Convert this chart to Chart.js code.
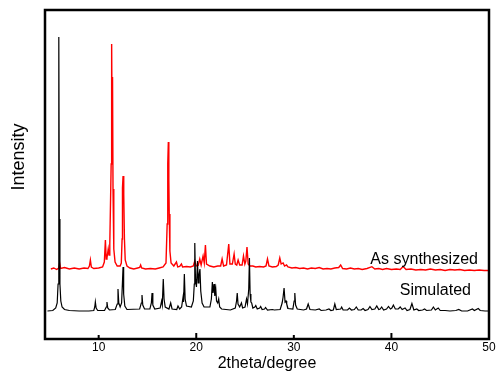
<!DOCTYPE html>
<html>
<head>
<meta charset="utf-8">
<script src="https://cdn.jsdelivr.net/npm/chart.js@4.4.0/dist/chart.umd.min.js"></script>
<style>
    html, body { margin: 0; padding: 0; background: #fff; }
</style>
</head>
<body>
<canvas id="chart-1" width="497" height="385"></canvas>
<script>
// 2theta (degree), intensity (arb. units, offset stacked)
const simulated = [
    [4.75, 28], [5.3, 28.5], [5.6, 31], [5.75, 36], [5.84, 55], [5.9, 120], [5.93, 302], [5.97, 120], [6.03, 55], [6.12, 38], [6.25, 32], [6.5, 29.5], [7.0, 28.5], [8.0, 28], [9.0, 28],
    [9.5, 28.5], [9.6, 32], [9.66, 37], [9.74, 31], [9.9, 28.5],
    [10.6, 28.5], [10.78, 32], [10.85, 37], [10.93, 31], [11.1, 29],
    [11.7, 29.5], [11.9, 35], [11.98, 50], [12.06, 36], [12.2, 32], [12.35, 36], [12.45, 60], [12.5, 72], [12.56, 45], [12.68, 33], [12.9, 29.5],
    [14.2, 30], [14.37, 36], [14.44, 44], [14.52, 34], [14.7, 30],
    [15.25, 30], [15.4, 36], [15.47, 46], [15.55, 34], [15.75, 30],
    [16.3, 31], [16.45, 38], [16.52, 34], [16.62, 60], [16.7, 40], [16.82, 32],
    [17.2, 30], [17.38, 36], [17.52, 30],
    [18.0, 29.5], [18.13, 33], [18.3, 30],
    [18.5, 32], [18.65, 42], [18.7, 37], [18.78, 65], [18.86, 40], [19.0, 33],
    [19.5, 32], [19.7, 38], [19.8, 55], [19.85, 96], [19.92, 60], [20.02, 52], [20.13, 78], [20.2, 56], [20.28, 64], [20.38, 70], [20.46, 48], [20.6, 36], [20.8, 32],
    [21.4, 32], [21.55, 40], [21.65, 57], [21.72, 46], [21.82, 55], [21.9, 43], [22.0, 50], [22.08, 38], [22.2, 36], [22.3, 40], [22.4, 32], [22.6, 30],
    [23.5, 29], [24.0, 31], [24.13, 38], [24.2, 46], [24.28, 35], [24.45, 32], [24.63, 36], [24.75, 31],
    [25.0, 32], [25.15, 40], [25.25, 35], [25.38, 50], [25.45, 81], [25.52, 45], [25.6, 37], [25.68, 36], [25.8, 31], [26.0, 32], [26.1, 33.5], [26.25, 30], [26.5, 31], [26.6, 32.5], [26.75, 29.5], [27.0, 30], [27.1, 31.5], [27.3, 29], [27.8, 29.5], [28.0, 29],
    [28.6, 29.5], [28.8, 36], [28.9, 42], [29.0, 51], [29.1, 37], [29.2, 38], [29.27, 35], [29.4, 30.5],
    [29.9, 30], [30.03, 38], [30.1, 46], [30.18, 34], [30.35, 30],
    [31.0, 29], [31.3, 30], [31.47, 35], [31.65, 29.5], [32.2, 29], [32.6, 30], [32.8, 28.5], [33.3, 29], [33.6, 30], [33.8, 28.5],
    [34.05, 29], [34.2, 35], [34.35, 29.5], [34.8, 30], [34.9, 32], [35.05, 29],
    [35.5, 29], [35.7, 31], [35.9, 29], [36.2, 29.5], [36.4, 32], [36.6, 29], [36.9, 29], [37.1, 30.5], [37.3, 28.5], [37.6, 29.5], [37.8, 32.5], [38.0, 29.5], [38.3, 30], [38.5, 33], [38.7, 29.5], [38.85, 30], [39.0, 32], [39.2, 29], [39.5, 30], [39.7, 32.5], [39.9, 30],
    [40.05, 31], [40.2, 34], [40.4, 30], [40.7, 30], [40.9, 32], [41.1, 29.5], [41.4, 31], [41.6, 28.5], [41.9, 29.5], [42.1, 35.5], [42.3, 29], [42.6, 30], [42.8, 28.5], [43.2, 29], [43.4, 30], [43.6, 28.5], [44.1, 29], [44.3, 32], [44.5, 29], [44.8, 31], [45.0, 28.5],
    [45.5, 28.5], [46.0, 28], [46.6, 28.5], [46.9, 29.5], [47.2, 28], [47.8, 28], [48.3, 30], [48.5, 28.5], [48.9, 30.5], [49.1, 28.5], [49.6, 28], [50, 28]
];

const synthesized = [
    [5.1, 70], [5.4, 71], [5.7, 69.5], [5.9, 71], [6.0, 76], [6.1, 70.5], [6.5, 71.5], [7.0, 70], [7.5, 71], [8.0, 70], [8.5, 71], [8.9, 70.5],
    [9.05, 73], [9.15, 79], [9.25, 72], [9.5, 70.5], [10.0, 71], [10.4, 72], [10.58, 77], [10.69, 99], [10.77, 80], [10.85, 81], [10.98, 90], [11.06, 84],
    [11.14, 95], [11.22, 140], [11.28, 175], [11.33, 295], [11.37, 225], [11.42, 262], [11.47, 150], [11.55, 90], [11.68, 77], [11.9, 73],
    [12.2, 73], [12.32, 76], [12.4, 100], [12.44, 151], [12.5, 163], [12.55, 150], [12.59, 145], [12.64, 100], [12.72, 79], [12.9, 73],
    [13.2, 71], [13.6, 70], [14.0, 71], [14.2, 71.5], [14.3, 74], [14.4, 71], [14.8, 70], [15.3, 70.5], [15.8, 70], [16.2, 71], [16.6, 72],
    [16.9, 76], [17.02, 115], [17.08, 175], [17.14, 197], [17.19, 159], [17.23, 125], [17.3, 88], [17.42, 76], [17.7, 73],
    [17.97, 77], [18.1, 72], [18.3, 72.5], [18.48, 75], [18.6, 72], [19.0, 72.5], [19.4, 72], [19.7, 73], [19.85, 78], [20.0, 73],
    [20.2, 73.5], [20.36, 80], [20.5, 74], [20.7, 83], [20.82, 76], [20.94, 94], [21.05, 75], [21.4, 73], [21.8, 72], [22.2, 73], [22.5, 73],
    [22.65, 80], [22.8, 73], [23.1, 74], [23.33, 95], [23.45, 75], [23.7, 75], [23.88, 85], [24.0, 75], [24.15, 74], [24.29, 79], [24.45, 74],
    [24.7, 74], [24.84, 83], [24.98, 75], [25.08, 78], [25.2, 92], [25.32, 75], [25.5, 73], [25.8, 73], [26.1, 72], [26.5, 72.5], [26.9, 72],
    [27.15, 73], [27.3, 80], [27.45, 73], [27.8, 72], [28.2, 72.5], [28.4, 74], [28.56, 81], [28.7, 75], [28.9, 76], [29.05, 73], [29.25, 74], [29.4, 72],
    [29.8, 71], [30.2, 71.5], [30.6, 70.5], [31.0, 71], [31.4, 70], [31.8, 71], [32.2, 70.5], [32.6, 71.5], [33.0, 70], [33.4, 70.5], [33.8, 70],
    [34.2, 71], [34.6, 71.5], [34.8, 74], [35.0, 70.5], [35.4, 70], [35.8, 71], [36.2, 70], [36.6, 70.5], [37.0, 69.5], [37.5, 70.5], [38.0, 72.3],
    [38.3, 70], [38.7, 70.5], [39.1, 69.5], [39.5, 70.5], [40.0, 69.5], [40.5, 70], [40.9, 69.5], [41.2, 72.5], [41.5, 69.5], [42.0, 70],
    [42.5, 69], [43.0, 69.5], [43.5, 69], [44.0, 70], [44.5, 69], [45.0, 69.5], [45.5, 68.5], [46.0, 69.5], [46.5, 69], [47.0, 69.5],
    [47.5, 68.5], [48.0, 69], [48.5, 68.5], [49.0, 69], [49.5, 68.5], [50, 68.5]
];

const seriesNames = ["Simulated", "As synthesized"];
const xTicks = [10, 20, 30, 40, 50];

const labelFont = "'Liberation Sans', Arial, sans-serif";

const framePlugin = {
    id: "frame",
    afterDraw(chart) {
        const { ctx, chartArea: a, scales } = chart;
        const x = scales.x, y = scales.y;
        ctx.save();
        ctx.strokeStyle = "#000";
        ctx.lineWidth = 2.5;
        ctx.strokeRect(a.left, a.top, a.right - a.left, a.bottom - a.top);

        // inward ticks
        ctx.lineWidth = 2;
        xTicks.forEach((v) => {
            const px = x.getPixelForValue(v);
            const len = v % 20 === 0 ? 6 : 4;
            ctx.beginPath();
            ctx.moveTo(px, a.bottom);
            ctx.lineTo(px, a.bottom - len);
            ctx.stroke();
        });

        // series labels
        ctx.fillStyle = "#000";
        ctx.font = "16px " + labelFont;
        ctx.textAlign = "right";
        ctx.textBaseline = "alphabetic";
        ctx.fillText(seriesNames[1], x.getPixelForValue(48.87), y.getPixelForValue(75.5));
        ctx.fillText(seriesNames[0], x.getPixelForValue(48.15), y.getPixelForValue(44));

        // y axis title
        ctx.translate(19, 157);
        ctx.rotate(-Math.PI / 2);
        ctx.font = "18px " + labelFont;
        ctx.textAlign = "center";
        ctx.textBaseline = "middle";
        ctx.fillText("Intensity", 0, 0);
        ctx.restore();
    },
};

const ctx1 = document.getElementById("chart-1").getContext("2d");
const myChart = new Chart(ctx1, {
    type: "line",
    data: {
        datasets: [
            {
                label: seriesNames[0],
                data: simulated.map((p) => ({ x: p[0], y: p[1] })),
                borderColor: "#000000",
                borderWidth: 1.2,
                pointRadius: 0,
                tension: 0,
            },
            {
                label: seriesNames[1],
                data: synthesized.map((p) => ({ x: p[0], y: p[1] })),
                borderColor: "#ff0000",
                borderWidth: 1.4,
                pointRadius: 0,
                tension: 0,
            },
        ],
    },
    options: {
        responsive: false,
        animation: false,
        layout: { padding: { left: 0, right: 8, top: 10, bottom: 0 } },
        plugins: {
            legend: { display: false },
            tooltip: { enabled: false },
        },
        scales: {
            x: {
                type: "linear",
                min: 4.5,
                max: 50,
                afterBuildTicks: (scale) => {
                    scale.ticks = xTicks.map((v) => ({ value: v }));
                },
                afterFit: (scale) => {
                    scale.height = 46;
                },
                grid: { display: false, drawTicks: false },
                border: { display: false },
                ticks: {
                    color: "#000",
                    padding: 1,
                    maxRotation: 0,
                    font: { family: labelFont, size: 12 },
                },
                title: {
                    display: true,
                    text: "2theta/degree",
                    color: "#000",
                    padding: { top: 0, bottom: 12 },
                    font: { family: labelFont, size: 16 },
                },
            },
            y: {
                min: 0,
                max: 329,
                afterFit: (scale) => {
                    scale.width = 45;
                },
                grid: { display: false, drawTicks: false },
                border: { display: false },
                ticks: { display: false },
            },
        },
    },
    plugins: [framePlugin],
});
</script>
</body>
</html>
